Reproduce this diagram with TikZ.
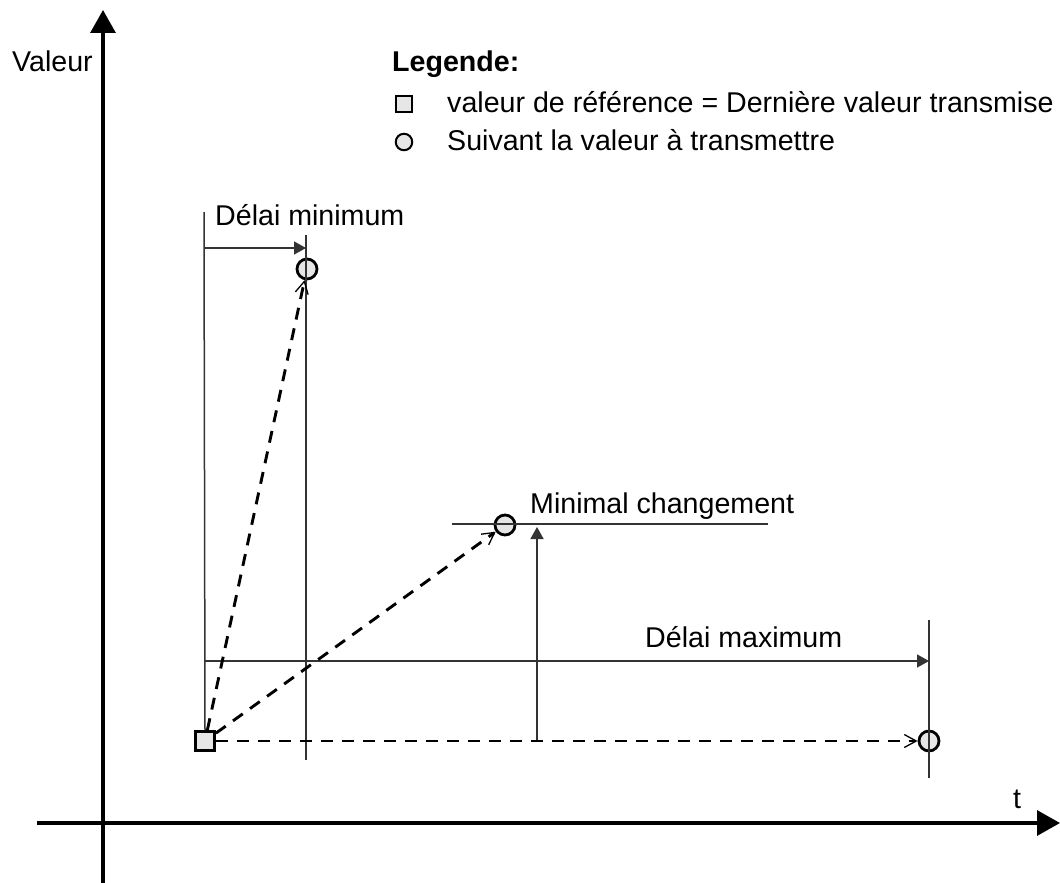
\documentclass[tikz,border=0pt]{standalone}
\usepackage{fontspec}
\setmainfont{Liberation Sans}
\usetikzlibrary{arrows.meta}
\definecolor{fillg}{HTML}{E6E6E6}
\definecolor{lineg}{HTML}{333333}
\begin{document}
\begin{tikzpicture}[x=1pt,y=-1pt,
  lbl/.style={anchor=base west,inner sep=0pt,font=\fontsize{28.6}{34}\selectfont},
  axis/.style={line width=3.2pt,-{Triangle[length=23pt,width=25pt]}},
  thin/.style={line width=1.5pt,draw=lineg},
  dimarrow/.style={thin,-{Triangle[length=12pt,width=13pt]}},
  dashline/.style={line width=2.9pt,dash pattern=on 12pt off 9pt,-{Straight Barb[length=12pt,width=13pt,line width=1.3pt]}},
  pt/.style={circle,draw,line width=2.8pt,fill=fillg,minimum size=20pt,inner sep=0pt},
  ref/.style={rectangle,draw,line width=2.9pt,fill=fillg,minimum width=19pt,minimum height=19pt,inner sep=0pt},
  legsq/.style={rectangle,draw,line width=2pt,fill=fillg,minimum size=16pt,inner sep=0pt},
  legci/.style={circle,draw,line width=2pt,fill=fillg,minimum size=16.5pt,inner sep=0pt}]
\useasboundingbox (0,0) rectangle (1060,883);
% axes
\coordinate (yb) at (103,883);
\coordinate (yt) at (103,10);
\coordinate (xl) at (37,823);
\coordinate (xr) at (1060,823);
\draw[axis] (yb) -- (yt);
\draw[axis] (xl) -- (xr);
\node[lbl] (valeur) at (12,72) {Valeur};
\node[lbl] (tlab) at (1013,808) {t};
% legend
\node[lbl,font=\fontsize{28.6}{34}\selectfont\bfseries] (leg) at (392,72) {Legende:};
\node[legsq] (lsq) at (404,104) {};
\node[legci] (lci) at (404,142) {};
\node[lbl] (l1) at (447,112) {valeur de référence = Dernière valeur transmise};
\node[lbl] (l2) at (447,150) {Suivant la valeur à transmettre};
% points
\node[ref] (sq) at (205,741) {};
\node[pt] (c1) at (307,269) {};
\node[pt] (c2) at (505,525) {};
\node[pt] (c3) at (929,741) {};
% guide lines
\coordinate (v1t) at (204,212);
\draw[thin] (v1t) -- (sq.north);
\coordinate (v2t) at (306,235);
\coordinate (v2b) at (306,760);
\draw[thin] (v2t) -- (v2b);
\coordinate (v3t) at (929,620);
\coordinate (v3b) at (929,778);
\draw[thin] (v3t) -- (v3b);
\coordinate (hl) at (452,524);
\coordinate (hr) at (768,524);
\draw[thin] (hl) -- (hr);
% dimension arrows
\coordinate (dmin0) at (204,248);
\coordinate (dmin1) at (306,248);
\draw[dimarrow] (dmin0) -- (dmin1);
\coordinate (dmax0) at (204,661);
\coordinate (dmax1) at (929,661);
\draw[dimarrow] (dmax0) -- (dmax1);
\coordinate (mc0) at (537,741);
\coordinate (mc1) at (537,527);
\draw[dimarrow] (mc0) -- (mc1);
\node[lbl] (dminl) at (215,225) {Délai minimum};
\node[lbl] (mcl) at (530,513) {Minimal changement};
\node[lbl] (dmaxl) at (645,647) {Délai maximum};
% dashed transitions
\draw[dashline] (sq) -- (c1);
\draw[dashline] (sq) -- (c2);
\draw[dashline] (sq) -- (c3);
\end{tikzpicture}
\end{document}
